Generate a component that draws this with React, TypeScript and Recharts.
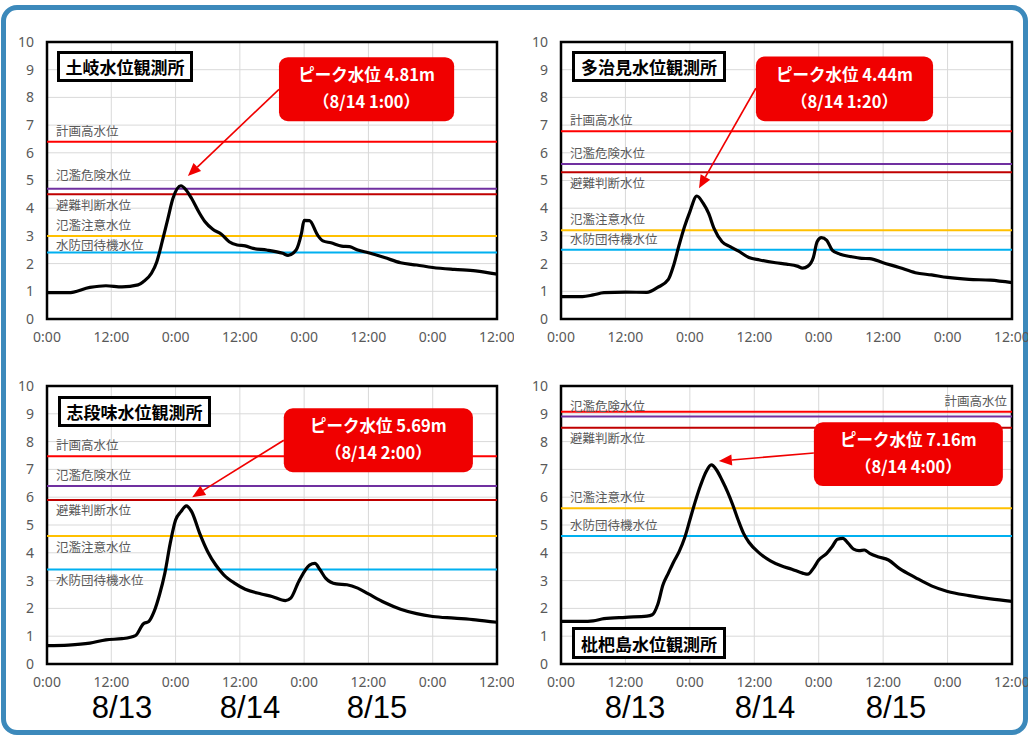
import React from 'react';
import {
  CartesianGrid,
  Line,
  LineChart,
  ReferenceArea,
  ReferenceLine,
  XAxis,
  YAxis,
} from 'recharts';

// Axis ticks (hours from 8/13 0:00) and level ticks (m).
const hourTicks = [0, 12, 24, 36, 48, 60, 72, 84];
const levelTicks = [0, 1, 2, 3, 4, 5, 6, 7, 8, 9, 10];
const dateLabels = ['8/13', '8/14', '8/15'];

const thresholdNames = ['計画高水位', '氾濫危険水位', '避難判断水位', '氾濫注意水位', '水防団待機水位'];
const thresholdColors = ['#ff0000', '#7030a0', '#c00000', '#ffc000', '#00b0f0'];

// 土岐
const tokiHours = [0, 4, 8, 11, 14, 17, 18, 19.5, 20.5, 21.5, 22.5, 23.5, 25, 26, 27, 28.5, 29.5, 31, 32.5, 34, 35.5, 37, 38.5, 41, 44, 45, 46.5, 47.5, 48, 49, 50.5, 51.5, 53, 55, 56.5, 58, 60, 63, 66, 69, 72, 76, 80, 84];
const tokiLevels = [0.95, 0.95, 1.14, 1.2, 1.16, 1.23, 1.35, 1.65, 2.07, 2.79, 3.57, 4.35, 4.81, 4.65, 4.35, 3.81, 3.51, 3.23, 3.07, 2.79, 2.67, 2.64, 2.55, 2.49, 2.37, 2.3, 2.49, 3.09, 3.56, 3.55, 3.03, 2.82, 2.75, 2.63, 2.61, 2.49, 2.39, 2.22, 2.03, 1.95, 1.86, 1.79, 1.74, 1.62];
const tokiThresholds = [6.4, 4.7, 4.5, 3.0, 2.4];
const tokiPeak = ['ピーク水位 4.81m', '（8/14 1:00）'];

// 多治見
const tajimiHours = [0, 4, 6, 8, 12, 16, 18, 20, 21, 22, 23, 24, 25.3, 26.5, 27.5, 28.5, 30, 31.5, 33, 35, 37, 40, 42, 44, 45, 46, 47, 47.7, 48.5, 49.5, 50.5, 52, 54, 56, 57.5, 60, 63, 66, 69, 72, 76, 80, 84];
const tajimiLevels = [0.81, 0.81, 0.87, 0.95, 0.97, 0.96, 1.14, 1.43, 1.95, 2.67, 3.33, 3.87, 4.44, 4.17, 3.81, 3.27, 2.79, 2.61, 2.46, 2.22, 2.13, 2.03, 1.98, 1.91, 1.84, 1.91, 2.22, 2.79, 2.94, 2.84, 2.49, 2.34, 2.25, 2.19, 2.18, 2.03, 1.86, 1.67, 1.59, 1.5, 1.43, 1.4, 1.31];
const tajimiThresholds = [6.78, 5.6, 5.3, 3.2, 2.5];
const tajimiPeak = ['ピーク水位 4.44m', '（8/14 1:20）'];

// 志段味
const shidamiHours = [0, 4, 8, 11, 14, 16.5, 18, 19, 20, 21, 22, 23, 24, 25, 26, 27, 28.5, 30, 31.5, 33, 35, 37, 40, 42, 44.5, 45.5, 47, 49, 50, 51, 52, 54, 56, 58, 60, 63, 66, 69, 72, 76, 80, 84];
const shidamiLevels = [0.66, 0.68, 0.75, 0.87, 0.91, 1.02, 1.45, 1.53, 1.89, 2.49, 3.27, 4.34, 5.18, 5.48, 5.69, 5.48, 4.7, 4.04, 3.56, 3.21, 2.91, 2.69, 2.52, 2.43, 2.28, 2.37, 2.97, 3.56, 3.62, 3.38, 3.09, 2.88, 2.85, 2.73, 2.52, 2.21, 1.97, 1.81, 1.71, 1.65, 1.59, 1.5];
const shidamiThresholds = [7.47, 6.4, 5.9, 4.6, 3.4];
const shidamiPeak = ['ピーク水位 5.69m', '（8/14 2:00）'];

// 枇杷島
const biwajimaHours = [0, 4, 6, 8, 12, 16, 17, 18, 19, 20, 21, 22, 23, 24, 25, 26, 27, 28, 29, 30, 31, 32, 33, 34, 35, 37, 39, 41, 43, 45, 46, 47, 48, 49.5, 50.5, 51.5, 52.5, 53.5, 54.5, 55.5, 56.5, 57.5, 59, 61, 63, 66, 69, 72, 76, 80, 84];
const biwajimaLevels = [1.53, 1.53, 1.55, 1.63, 1.68, 1.72, 1.77, 2.13, 2.85, 3.27, 3.68, 4.04, 4.52, 5.18, 5.84, 6.43, 6.91, 7.16, 6.97, 6.61, 6.2, 5.72, 5.18, 4.7, 4.38, 3.98, 3.71, 3.53, 3.41, 3.27, 3.23, 3.44, 3.74, 3.98, 4.22, 4.49, 4.52, 4.34, 4.13, 4.08, 4.1, 3.98, 3.86, 3.74, 3.44, 3.11, 2.81, 2.61, 2.46, 2.34, 2.25];
const biwajimaThresholds = [9.07, 8.9, 8.5, 5.6, 4.6];
const biwajimaPeak = ['ピーク水位 7.16m', '（8/14 4:00）'];

const tickGray = '#595959';
const jpFont = '"Noto Sans CJK JP", "Noto Sans", sans-serif';

type Placement = 'above' | 'below' | 'aboveRight';

interface PanelProps {
  name: string;
  hours: number[];
  levels: number[];
  thresholds: number[];
  peak: string[];
  placements: Placement[];
  labelNudge?: number[];
  box: { x1: number; x2: number; y1: number; y2: number };
  arrow: [{ x: number; y: number }, { x: number; y: number }];
  left: number;
  top: number;
  height: number;
  margin: { top: number; right: number; bottom: number; left: number };
  title: { left: number; top: number; width: number; height: number };
  dates?: number[];
}

const thresholdLabel = (text: string, placement: Placement, nudge: number) => (props: any) => {
  const vb = props.viewBox || {};
  const common = { fill: tickGray, fontSize: 12.5, fontFamily: jpFont };
  if (placement === 'aboveRight') {
    return (
      <text x={vb.x + vb.width - 5} y={vb.y - 6 + nudge} textAnchor="end" {...common}>
        {text}
      </text>
    );
  }
  const y = (placement === 'above' ? vb.y - 6 : vb.y + 15.5) + nudge;
  return (
    <text x={vb.x + 9} y={y} textAnchor="start" {...common}>
      {text}
    </text>
  );
};

function ArrowShape(props: any) {
  const { x1, y1, x2, y2 } = props;
  const dx = x2 - x1;
  const dy = y2 - y1;
  const len = Math.hypot(dx, dy) || 1;
  const ux = dx / len;
  const uy = dy / len;
  const head = 13;
  const half = 5.5;
  const bx = x2 - ux * head;
  const by = y2 - uy * head;
  const pts = `${x2},${y2} ${bx - uy * half},${by + ux * half} ${bx + uy * half},${by - ux * half}`;
  return (
    <g>
      <line x1={x1} y1={y1} x2={bx} y2={by} stroke="#f00000" strokeWidth={1.6} />
      <polygon points={pts} fill="#f00000" />
    </g>
  );
}

// Callout box drawn from a diagonal segment (top-left to bottom-right corner in data space).
const peakBox = (lines: string[]) => (props: any) => {
  const x = Math.min(props.x1, props.x2);
  const y = Math.min(props.y1, props.y2);
  const width = Math.abs(props.x2 - props.x1);
  const height = Math.abs(props.y2 - props.y1);
  const t = { fill: '#fff', fontSize: 16.5, fontWeight: 700, fontFamily: jpFont, textAnchor: 'middle' as const };
  return (
    <g>
      <rect x={x} y={y} width={width} height={height} rx={9} ry={9} fill="#f00000" />
      <text x={x + width / 2} y={y + height * 0.28 + 6} {...t}>
        {lines[0]}
      </text>
      <text x={x + width / 2} y={y + height * 0.7 + 6} {...t}>
        {lines[1]}
      </text>
    </g>
  );
};

function Panel(p: PanelProps) {
  const data = p.hours.map((h, i) => ({ h, level: p.levels[i] }));
  const width = 514;
  const nudge = p.labelNudge || [0, 0, 0, 0, 0];
  return (
    <div style={{ position: 'absolute', left: p.left, top: p.top, width, height: p.height }}>
      <LineChart width={width} height={p.height} data={data} margin={p.margin}>
        <CartesianGrid stroke="#d9d9d9" strokeWidth={1} />
        <XAxis
          dataKey="h"
          type="number"
          domain={[0, 84]}
          ticks={hourTicks}
          interval={0}
          tickFormatter={(h: number) => (h % 24 === 0 ? '0:00' : '12:00')}
          axisLine={false}
          tickLine={false}
          tickSize={0}
          tickMargin={13}
          height={30}
          tick={{ fill: tickGray, fontSize: 14, fontFamily: '"Noto Sans", sans-serif' }}
        />
        <YAxis
          type="number"
          domain={[0, 10]}
          ticks={levelTicks}
          interval={0}
          axisLine={false}
          tickLine={false}
          tickSize={0}
          tickMargin={13}
          width={30}
          tick={{ fill: tickGray, fontSize: 14, fontFamily: '"Noto Sans", sans-serif' }}
        />
        {p.thresholds.map((v, i) => (
          <ReferenceLine
            key={thresholdNames[i]}
            y={v}
            stroke={thresholdColors[i]}
            strokeWidth={2}
            label={thresholdLabel(thresholdNames[i], p.placements[i], nudge[i])}
          />
        ))}
        <Line
          type="monotone"
          dataKey="level"
          stroke="#000"
          strokeWidth={3.2}
          dot={false}
          activeDot={false}
          isAnimationActive={false}
        />
        <ReferenceLine
          segment={[{ x: p.box.x1, y: p.box.y2 }, { x: p.box.x2, y: p.box.y1 }]}
          shape={peakBox(p.peak)}
        />
        <ReferenceLine segment={p.arrow} shape={ArrowShape} />
        <ReferenceArea x1={0} x2={84} y1={0} y2={10} fill="none" stroke="#000" strokeWidth={2.5} fillOpacity={0} />
      </LineChart>
      <div
        style={{
          position: 'absolute',
          left: p.title.left,
          top: p.title.top,
          width: p.title.width,
          height: p.title.height,
          boxSizing: 'border-box',
          border: '3px solid #000',
          background: '#fff',
          display: 'flex',
          alignItems: 'center',
          justifyContent: 'center',
          fontFamily: jpFont,
          fontWeight: 700,
          fontSize: 17,
          color: '#000',
          lineHeight: 1,
        }}
      >
        {p.name}
      </div>
      {p.dates &&
        dateLabels.map((d, i) => (
          <div
            key={d}
            style={{
              position: 'absolute',
              left: p.dates![i] - 50,
              top: 332,
              width: 100,
              textAlign: 'center',
              fontFamily: '"Liberation Sans", Arial, sans-serif',
              fontSize: 31,
              color: '#000',
              lineHeight: 1,
            }}
          >
            {d}
          </div>
        ))}
    </div>
  );
}

export default function App() {
  return (
    <div style={{ position: 'absolute', left: 0, top: 0, width: 1028, height: 735, background: '#fff', overflow: 'hidden' }}>
      <div
        style={{
          position: 'absolute',
          left: 1,
          top: 5,
          width: 1027,
          height: 730,
          boxSizing: 'border-box',
          border: '5px solid #3c89bb',
          borderRadius: 16,
        }}
      />
      <Panel
        name="土岐水位観測所"
        hours={tokiHours}
        levels={tokiLevels}
        thresholds={tokiThresholds}
        peak={tokiPeak}
        placements={['above', 'above', 'below', 'above', 'above']}
        labelNudge={[0, -3, 0, 0, 3]}
        box={{ x1: 43.3, x2: 76, y1: 7.14, y2: 9.45 }}
        arrow={[{ x: 43.3, y: 8.29 }, { x: 26.3, y: 5.16 }]}
        left={0}
        top={0}
        height={360}
        margin={{ top: 42, right: 17, bottom: 11, left: 17 }}
        title={{ left: 57, top: 51, width: 136, height: 31 }}
      />
      <Panel
        name="多治見水位観測所"
        hours={tajimiHours}
        levels={tajimiLevels}
        thresholds={tajimiThresholds}
        peak={tajimiPeak}
        placements={['above', 'above', 'below', 'above', 'above']}
        box={{ x1: 36.3, x2: 69.3, y1: 7.14, y2: 9.48 }}
        arrow={[{ x: 36.3, y: 8.33 }, { x: 25.7, y: 4.72 }]}
        left={514}
        top={0}
        height={360}
        margin={{ top: 42, right: 16, bottom: 11, left: 17 }}
        title={{ left: 58, top: 51, width: 154, height: 31 }}
      />
      <Panel
        name="志段味水位観測所"
        hours={shidamiHours}
        levels={shidamiLevels}
        thresholds={shidamiThresholds}
        peak={shidamiPeak}
        placements={['above', 'above', 'below', 'below', 'below']}
        box={{ x1: 44.2, x2: 79.5, y1: 6.9, y2: 9.2 }}
        arrow={[{ x: 44.2, y: 8.05 }, { x: 27.1, y: 6.0 }]}
        left={0}
        top={360}
        height={375}
        margin={{ top: 26, right: 17, bottom: 41, left: 17 }}
        title={{ left: 58, top: 36, width: 153, height: 31 }}
        dates={[122, 250, 377]}
      />
      <Panel
        name="枇杷島水位観測所"
        hours={biwajimaHours}
        levels={biwajimaLevels}
        thresholds={biwajimaThresholds}
        peak={biwajimaPeak}
        placements={['aboveRight', 'above', 'below', 'above', 'above']}
        box={{ x1: 47.1, x2: 82.3, y1: 6.4, y2: 8.7 }}
        arrow={[{ x: 47.1, y: 7.59 }, { x: 29.4, y: 7.3 }]}
        left={514}
        top={360}
        height={375}
        margin={{ top: 26, right: 16, bottom: 41, left: 17 }}
        title={{ left: 58, top: 267, width: 154, height: 32 }}
        dates={[121, 251, 382]}
      />
    </div>
  );
}
